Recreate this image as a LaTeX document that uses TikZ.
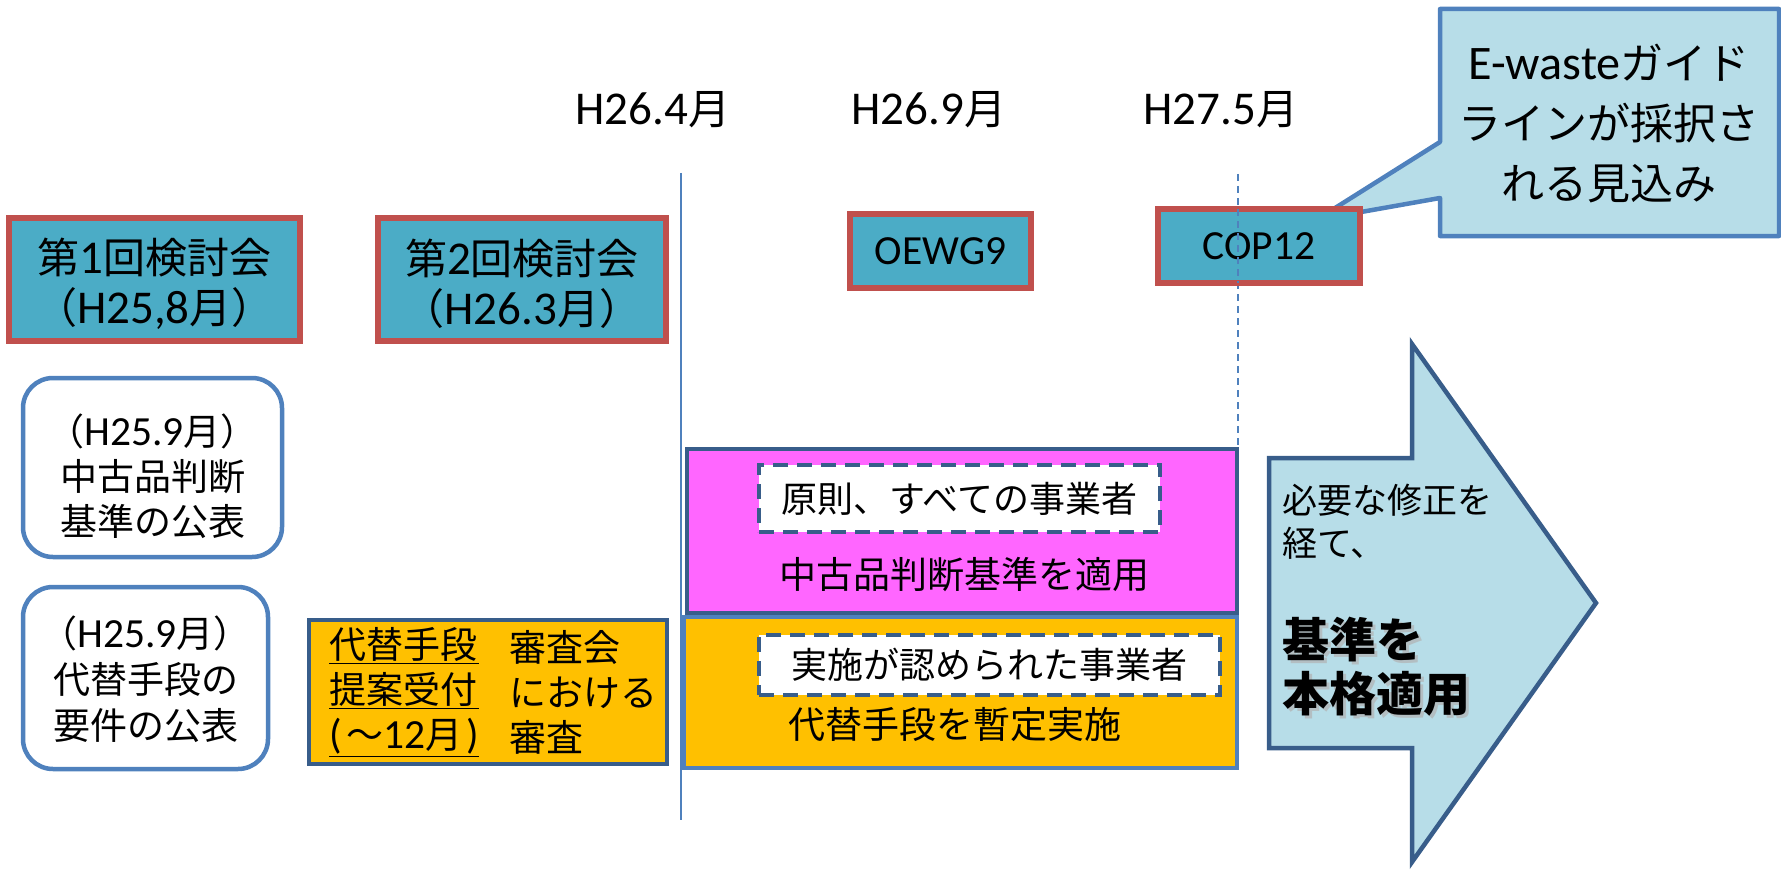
\documentclass[tikz,border=0pt]{standalone}
\usepackage{fontspec}
\setmainfont{Noto Sans CJK JP}
\newfontfamily\lat[Scale=1.12]{Carlito}
\definecolor{teal}{HTML}{4BACC6}
\definecolor{redb}{HTML}{C0504D}
\definecolor{blueb}{HTML}{4F81BD}
\definecolor{darkb}{HTML}{385D8A}
\definecolor{lightb}{HTML}{B7DDE8}
\definecolor{mag}{HTML}{FF66FF}
\definecolor{orng}{HTML}{FFC000}
\tikzset{
  meet/.style={draw=redb, fill=teal, line width=5.5pt, inner sep=0pt, align=center},
  roundbox/.style={draw=blueb, fill=white, line width=4.5pt, rounded corners=30pt, inner sep=0pt},
  phase/.style={draw=darkb, line width=4.5pt, inner sep=0pt},
  dashbox/.style={draw=darkb, fill=white, line width=4.5pt, dash pattern=on 15pt off 9pt, inner sep=0pt},
  lbl/.style={inner sep=0pt, align=center},
  tline/.style={draw=blueb, line width=1.5pt},
}
\begin{document}
\begin{tikzpicture}[x=1pt,y=-1pt]
\useasboundingbox (0,0) rectangle (1781,872);
% timeline lines
\coordinate (l1t) at (681,173);
\coordinate (l1b) at (681,820);
\coordinate (l2t) at (1238,174);
\coordinate (l2b) at (1238,449);
\draw[tline] (l1t) -- (l1b);
\draw[tline, dash pattern=on 7pt off 5pt] (l2t) -- (l2b);
% date labels
\node[lbl, font=\fontsize{42}{50}\selectfont] (d1) at (653,110) {{\lat H26.4}月};
\node[lbl, font=\fontsize{42}{50}\selectfont] (d2) at (929,110) {{\lat H26.9}月};
\node[lbl, font=\fontsize{42}{50}\selectfont] (d3) at (1221,110) {{\lat H27.5}月};
% meetings
\node[meet, minimum width=291pt, minimum height=123pt] (m1) at (154.5,279.5) {};
\node[lbl, font=\fontsize{42}{50}\selectfont] (m1t) at (154.5,284) {第{\lat 1}回検討会\\（{\lat H25,8}月）};
\node[meet, minimum width=288pt, minimum height=123pt] (m2) at (522,279.5) {};
\node[lbl, font=\fontsize{42}{50}\selectfont] (m2t) at (522,284) {第{\lat 2}回検討会\\（{\lat H26.3}月）};
\node[meet, minimum width=181pt, minimum height=74pt, font=\fontsize{37}{44}\selectfont] (oewg) at (940.5,251) {{\lat OEWG9}};
% callout
\fill[lightb] (1440,9) -- (1779,9) -- (1779,236) -- (1440,236) -- (1440,198) -- (1316,220) -- (1440,142) -- cycle;
\draw[blueb, line width=4.5pt, line join=round] (1440,9) -- (1779,9) -- (1779,236) -- (1440,236) -- (1440,198) -- (1316,220) -- (1440,142) -- cycle;
\node[lbl, font=\fontsize{43}{60}\selectfont] (co) at (1609,124) {{\lat E-waste}ガイド\\ラインが採択さ\\れる見込み};
\node[meet, minimum width=202pt, minimum height=74pt, font=\fontsize{37}{44}\selectfont] (cop) at (1259,246) {{\lat COP12}};
\draw[tline, dash pattern=on 7pt off 5pt] (1238,209) -- (1238,283);
% rounded boxes
\node[roundbox, minimum width=259pt, minimum height=179pt] (r1) at (152.5,467.5) {};
\node[lbl, font=\fontsize{37}{45}\selectfont] (r1t) at (152.5,476) {（{\lat H25.9}月）\\中古品判断\\基準の公表};
\node[roundbox, minimum width=245pt, minimum height=182pt] (r2) at (145.5,678) {};
\node[lbl, font=\fontsize{37}{46}\selectfont] (r2t) at (145.5,679) {（{\lat H25.9}月）\\代替手段の\\要件の公表};
% orange review box
\node[phase, fill=orng, minimum width=358pt, minimum height=144pt] (ob) at (488,692) {};
\node[lbl, align=left, anchor=west, font=\fontsize{37}{45}\selectfont] (obl) at (329,692) {\underline{\makebox[150pt][l]{代替手段}}\\\underline{\makebox[150pt][l]{提案受付}}\\\underline{\makebox[150pt][s]{{\lat (}\hfil ～{\lat 12}月\hfil{\lat )}}}};
\node[lbl, align=left, anchor=west, font=\fontsize{37}{45}\selectfont] (obr) at (509,692) {審査会\\における\\審査};
% magenta phase
\node[phase, fill=mag, minimum width=550pt, minimum height=164pt] (mg) at (962,531) {};
\node[dashbox, minimum width=401pt, minimum height=67pt, font=\fontsize{36}{42}\selectfont] (db1) at (959.5,498.5) {原則、すべての事業者};
\node[lbl, font=\fontsize{37}{42}\selectfont] (mgt) at (964,575) {中古品判断基準を適用};
% orange phase
\node[draw=blueb, line width=4pt, inner sep=0pt, fill=orng, minimum width=553pt, minimum height=151pt] (og) at (960.5,692.5) {};
\node[dashbox, minimum width=461pt, minimum height=60pt, font=\fontsize{36}{42}\selectfont] (db2) at (989.5,665) {実施が認められた事業者};
\node[lbl, font=\fontsize{37}{42}\selectfont] (ogt) at (955,725) {代替手段を暫定実施};
% big arrow
\draw[draw=darkb, fill=lightb, line width=4.5pt] (1269,458) -- (1412,458) -- (1412,344) -- (1596,603) -- (1412,862) -- (1412,748) -- (1269,748) -- cycle;
\node[lbl, align=left, anchor=north west, font=\fontsize{35}{43}\selectfont] (a1) at (1282,484) {必要な修正を\\経て、};
\node[lbl, align=left, anchor=north west, font=\fontsize{47}{54}\selectfont\bfseries, text=gray!60, opacity=0.7] (a2s) at (1285,620) {基準を\\本格適用};
\node[lbl, align=left, anchor=north west, font=\fontsize{47}{54}\selectfont\bfseries] (a2) at (1282,617) {基準を\\本格適用};
\end{tikzpicture}
\end{document}
